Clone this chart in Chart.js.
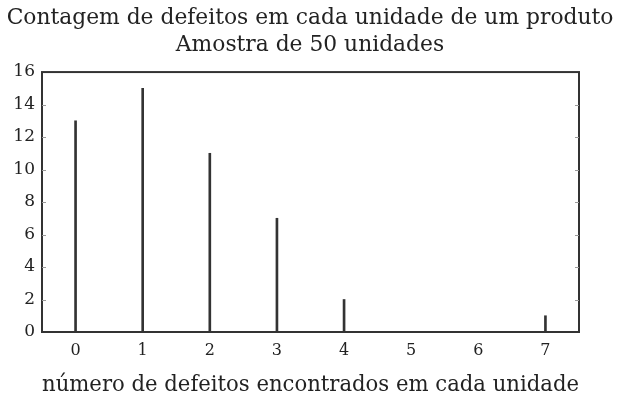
<!DOCTYPE html>
<html>
<head>
<meta charset="utf-8">
<script src="https://cdn.jsdelivr.net/npm/chart.js@4/dist/chart.umd.min.js"></script>
<style>
html,body{margin:0;padding:0;background:#fff;}
#wrap{width:624px;height:405px;position:relative;}
</style>
</head>
<body>
<div id="wrap"><canvas id="c" width="624" height="405"></canvas></div>
<script>
const categories = ["0","1","2","3","4","5","6","7"];
const counts = [13, 15, 11, 7, 2, 0, 0, 1];
const yTicks = [0, 2, 4, 6, 8, 10, 12, 14, 16];
const titleLines = ["Contagem de defeitos em cada unidade de um produto", "Amostra de 50 unidades"];
const xTitle = "número de defeitos encontrados em cada unidade";

const FONT = "'DejaVu Serif', serif";
const INK = "#333";

const frame = {
  id: 'frame',
  afterDatasetsDraw(chart) {
    const {ctx, chartArea: a, scales} = chart;
    ctx.save();
    ctx.strokeStyle = INK;
    ctx.lineWidth = 2;
    ctx.strokeRect(a.left, a.top, a.right - a.left, a.bottom - a.top);
    ctx.lineWidth = 1;
    ctx.strokeStyle = '#999';
    yTicks.forEach(v => {
      if (v === 0 || v === 16) return;
      const y = Math.round(scales.y.getPixelForValue(v)) + 0.5;
      ctx.beginPath();
      ctx.moveTo(a.left, y); ctx.lineTo(a.left + 4, y);
      ctx.moveTo(a.right, y); ctx.lineTo(a.right - 4, y);
      ctx.stroke();
    });
    ctx.restore();
  }
};

new Chart(document.getElementById('c'), {
  type: 'bar',
  data: {
    labels: categories,
    datasets: [{
      data: counts,
      backgroundColor: INK,
      borderWidth: 0,
      barThickness: 2
    }]
  },
  options: {
    responsive: false,
    animation: false,
    layout: { padding: { left: 0, right: 4, top: 0, bottom: 0 } },
    plugins: {
      legend: { display: false },
      tooltip: { enabled: false },
      title: {
        display: true,
        text: titleLines,
        color: '#222',
        font: { family: FONT, size: 21.8, weight: 'normal', lineHeight: 1.24 },
        padding: { top: 4.5, bottom: 13.5 }
      }
    },
    scales: {
      x: {
        offset: true,
        grid: { display: false, drawTicks: false },
        border: { display: false },
        ticks: { color: '#222', font: { family: FONT, size: 16 }, padding: 9, maxRotation: 0 },
        title: { display: true, text: xTitle, color: '#222', font: { family: FONT, size: 21.5 }, padding: { top: 6, bottom: 7 } },
        afterFit(s) { s.height = 73; }
      },
      y: {
        min: 0, max: 16,
        afterBuildTicks(s) { s.ticks = yTicks.map(v => ({ value: v })); },
        grid: { display: false, drawTicks: false },
        border: { display: false },
        ticks: { color: '#222', font: { family: FONT, size: 17 }, padding: 7 },
        afterFit(s) { s.width = 42; }
      },
      yRight: {
        position: 'right',
        min: 0, max: 16,
        grid: { display: false, drawTicks: false },
        border: { display: false },
        ticks: { display: false },
        afterFit(s) { s.width = 41; }
      }
    }
  },
  plugins: [frame]
});
</script>
</body>
</html>
